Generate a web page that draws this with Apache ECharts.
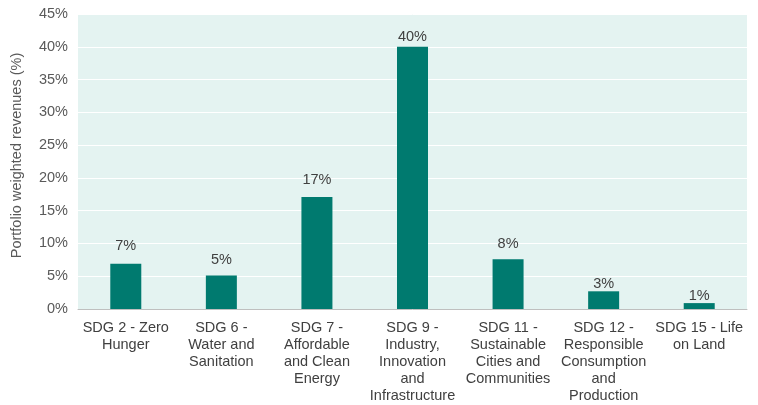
<!DOCTYPE html>
<html><head><meta charset="utf-8">
<script src="https://cdn.jsdelivr.net/npm/echarts@6/dist/echarts.min.js"></script>
<style>html,body{margin:0;padding:0;background:#fff}#c{width:758px;height:405px}</style>
</head><body><div id="c"></div>
<script>
var categories = [
  "SDG 2 - Zero\nHunger",
  "SDG 6 -\nWater and\nSanitation",
  "SDG 7 -\nAffordable\nand Clean\nEnergy",
  "SDG 9 -\nIndustry,\nInnovation\nand\nInfrastructure",
  "SDG 11 -\nSustainable\nCities and\nCommunities",
  "SDG 12 -\nResponsible\nConsumption\nand\nProduction",
  "SDG 15 - Life\non Land"
];
var values = [6.9, 5.1, 17.1, 40.0, 7.6, 2.7, 0.9];
var yTicks = {min: 0, max: 45, interval: 5};
var yName = "Portfolio weighted revenues (%)";

// label gaps above each bar (style only)
var labelGap = [10, 8, 9, 2, 8, 0, 0];

var chart = echarts.init(document.getElementById('c'));
chart.setOption({
  animation: false,
  textStyle: {fontFamily: 'Liberation Sans, Arial, sans-serif'},
  grid: {left: 78, right: 11, top: 14, bottom: 96, show: true, backgroundColor: '#e4f3f1', borderWidth: 0},
  xAxis: {
    type: 'category', data: categories,
    axisLine: {lineStyle: {color: '#bfbfbf'}},
    axisTick: {show: false},
    axisLabel: {color: '#404040', fontSize: 14.5, lineHeight: 17, margin: 10, interval: 0}
  },
  yAxis: {
    type: 'value', min: yTicks.min, max: yTicks.max, interval: yTicks.interval,
    name: yName, nameLocation: 'middle', nameGap: 54, nameRotate: 90,
    nameTextStyle: {color: '#595959', fontSize: 14.5, padding: [0, 0, 0, 12]},
    axisLine: {show: false}, axisTick: {show: false},
    axisLabel: {color: '#595959', fontSize: 14.5, margin: 10, formatter: function(v){return v + '%';}},
    splitLine: {lineStyle: {color: '#ffffff', width: 1}}
  },
  series: [{
    type: 'bar', barWidth: 31,
    data: values.map(function(v, i){ return {value: v, label: {distance: labelGap[i]}}; }),
    itemStyle: {color: '#007a6f'},
    label: {show: true, position: 'top', color: '#404040', fontSize: 14.5,
      formatter: function(p){return Math.round(p.value) + '%';}}
  }]
});
</script></body></html>
